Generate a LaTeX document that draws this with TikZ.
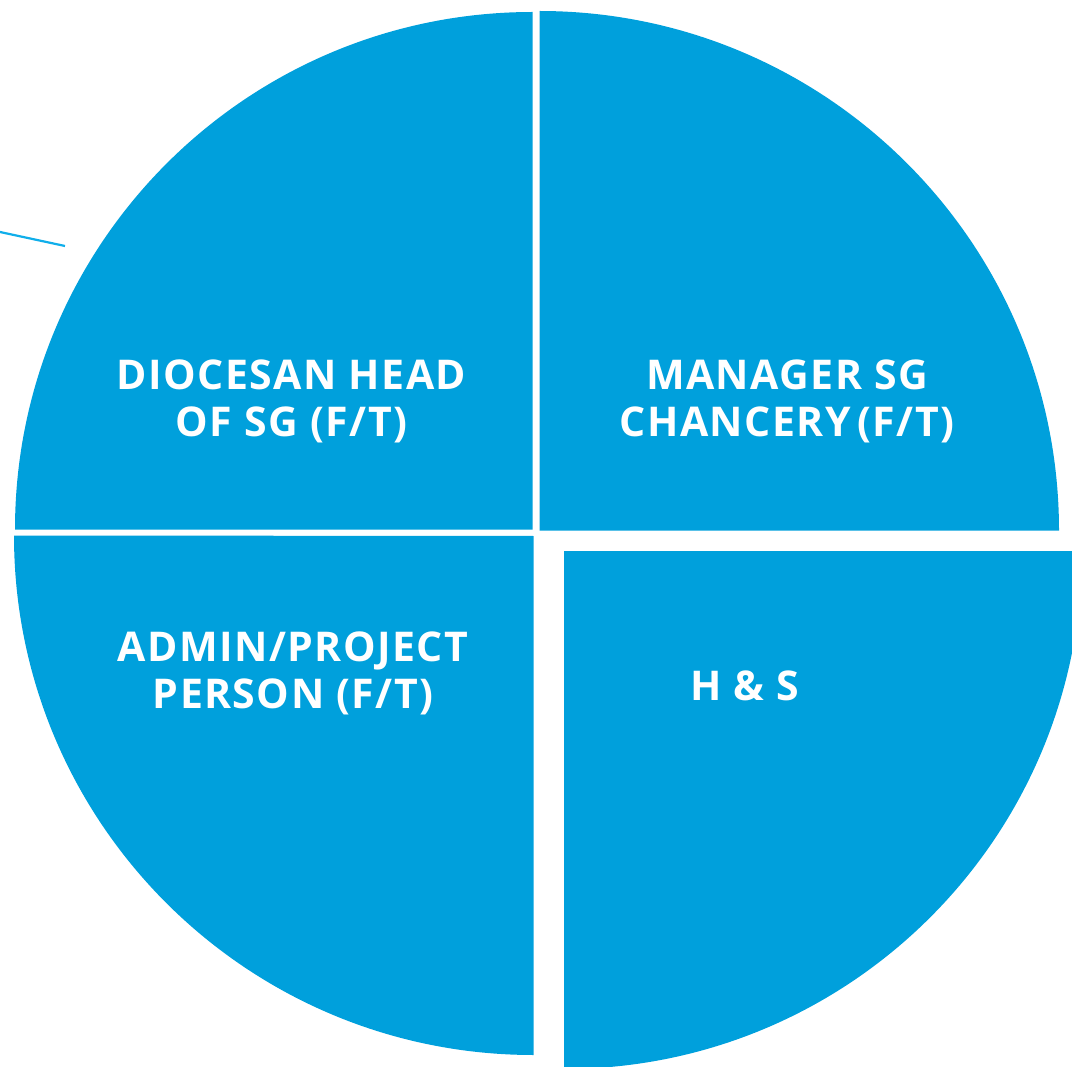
\documentclass[tikz,border=0pt]{standalone}
\usepackage{fontspec}
\setmainfont{Open Sans}
\newfontfamily\lblfont[LetterSpace=3.5]{Open Sans}
\definecolor{pieblue}{HTML}{00A0DC}
\definecolor{lineblue}{HTML}{10AEEA}
\begin{document}
\begin{tikzpicture}[x=1pt,y=-1pt,
  sector/.style={fill=pieblue,draw=none},
  lbl/.style={text=white,font=\lblfont\fontsize{41}{47}\selectfont\bfseries,align=center,inner sep=0pt}]
\useasboundingbox (0,0) rectangle (1072,1067);
\clip (0,0) rectangle (1072,1067);
% quadrants
\fill[sector] (532.5,529.5) -- ++(180:517.5) arc[start angle=180,end angle=270,radius=517.5] -- cycle;
\fill[sector] (539.5,530.5) -- ++(270:519.5) arc[start angle=270,end angle=360,radius=519.5] -- cycle;
\fill[sector] (533.5,536) -- ++(90:519) arc[start angle=90,end angle=180,radius=519.5] -- cycle;
\fill[sector] (564,551) -- ++(0:518) arc[start angle=0,end angle=90,radius=518] -- cycle;
% stray line
\coordinate (la) at (0,232);
\coordinate (lb) at (65,246);
\draw[lineblue,line width=2.2pt] (la) -- (lb);
% labels
\node[lbl] (tl) at (291.5,401) {DIOCESAN HEAD\\OF SG (F/T)};
\node[lbl] (tr) at (787,401) {MANAGER SG\\CHANCERY\,(F/T)};
\node[lbl] (bl) at (293,673) {ADMIN/PROJECT\\PERSON (F/T)};
\node[lbl] (br) at (745,686) {H \& S};
\end{tikzpicture}
\end{document}
